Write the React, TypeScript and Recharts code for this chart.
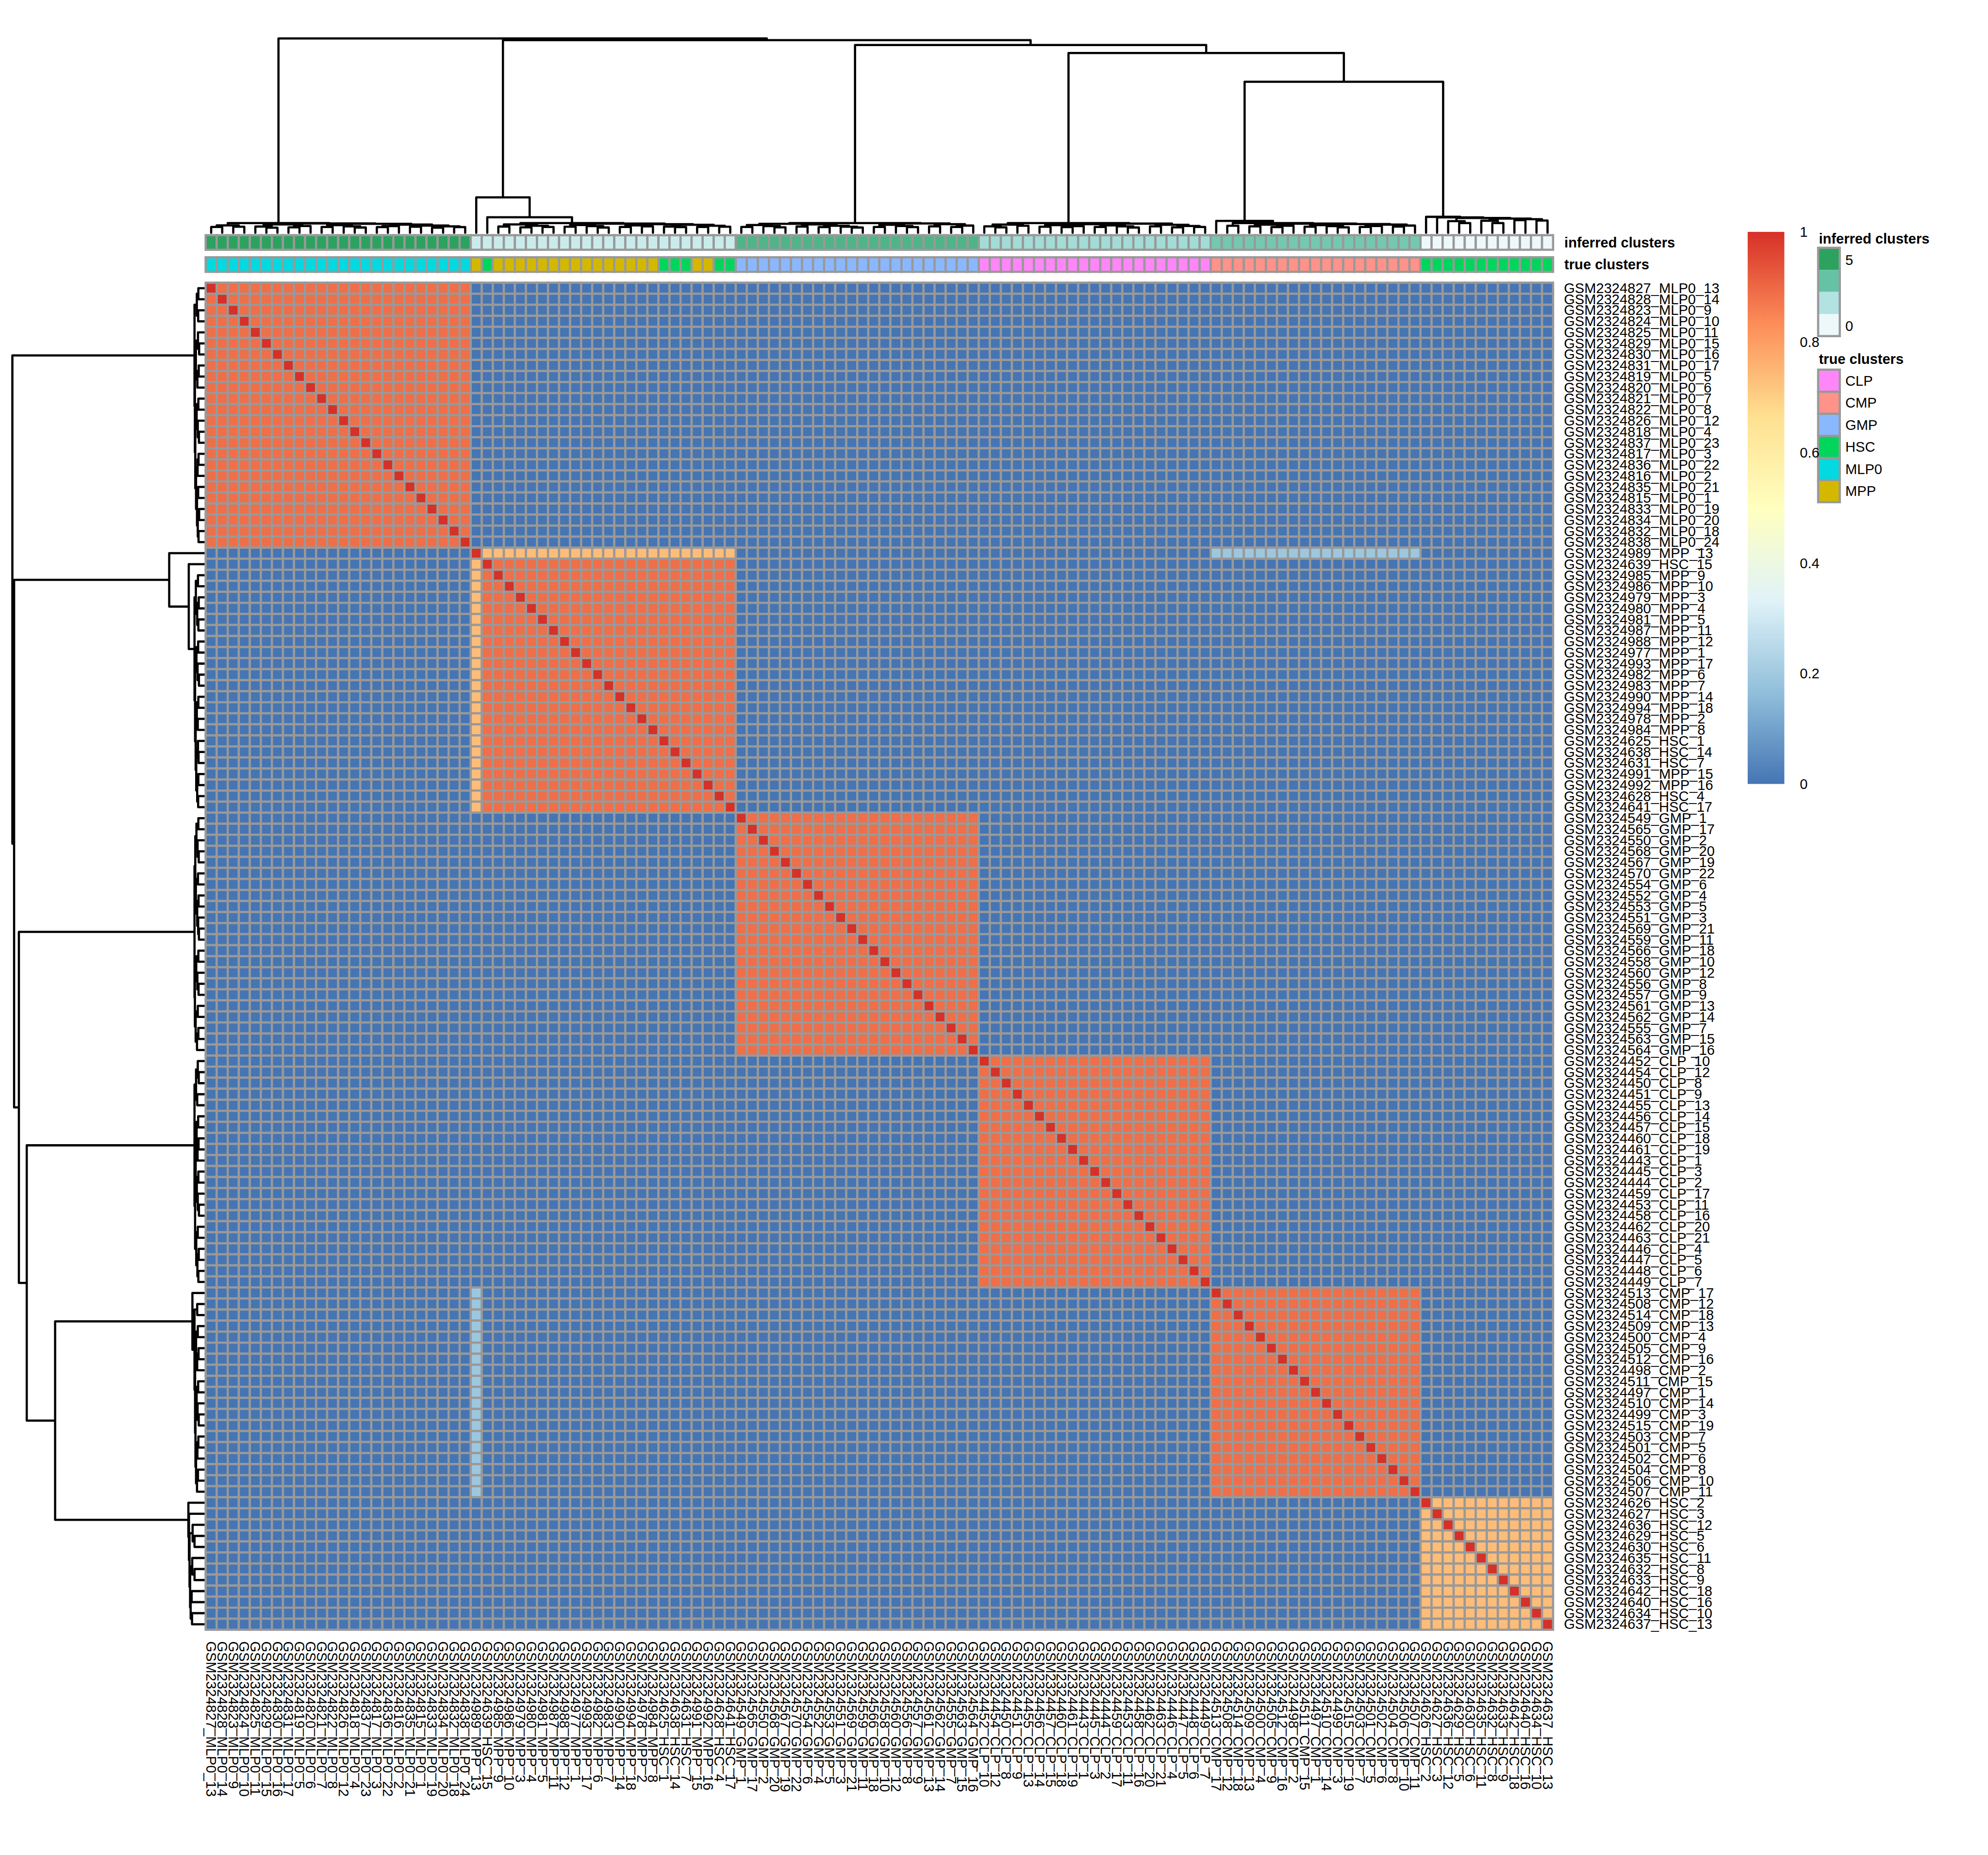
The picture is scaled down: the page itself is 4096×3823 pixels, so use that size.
import React from 'react';
import { ComposedChart, XAxis, YAxis, Scatter, Line } from 'recharts';

// ---- data ----
const samples: string[] = [
  'GSM2324827_MLP0_13', 'GSM2324828_MLP0_14', 'GSM2324823_MLP0_9', 'GSM2324824_MLP0_10', 'GSM2324825_MLP0_11',
  'GSM2324829_MLP0_15', 'GSM2324830_MLP0_16', 'GSM2324831_MLP0_17', 'GSM2324819_MLP0_5', 'GSM2324820_MLP0_6',
  'GSM2324821_MLP0_7', 'GSM2324822_MLP0_8', 'GSM2324826_MLP0_12', 'GSM2324818_MLP0_4', 'GSM2324837_MLP0_23',
  'GSM2324817_MLP0_3', 'GSM2324836_MLP0_22', 'GSM2324816_MLP0_2', 'GSM2324835_MLP0_21', 'GSM2324815_MLP0_1',
  'GSM2324833_MLP0_19', 'GSM2324834_MLP0_20', 'GSM2324832_MLP0_18', 'GSM2324838_MLP0_24',
  'GSM2324989_MPP_13', 'GSM2324639_HSC_15', 'GSM2324985_MPP_9', 'GSM2324986_MPP_10', 'GSM2324979_MPP_3',
  'GSM2324980_MPP_4', 'GSM2324981_MPP_5', 'GSM2324987_MPP_11', 'GSM2324988_MPP_12', 'GSM2324977_MPP_1',
  'GSM2324993_MPP_17', 'GSM2324982_MPP_6', 'GSM2324983_MPP_7', 'GSM2324990_MPP_14', 'GSM2324994_MPP_18',
  'GSM2324978_MPP_2', 'GSM2324984_MPP_8', 'GSM2324625_HSC_1', 'GSM2324638_HSC_14', 'GSM2324631_HSC_7',
  'GSM2324991_MPP_15', 'GSM2324992_MPP_16', 'GSM2324628_HSC_4', 'GSM2324641_HSC_17',
  'GSM2324549_GMP_1', 'GSM2324565_GMP_17', 'GSM2324550_GMP_2', 'GSM2324568_GMP_20', 'GSM2324567_GMP_19',
  'GSM2324570_GMP_22', 'GSM2324554_GMP_6', 'GSM2324552_GMP_4', 'GSM2324553_GMP_5', 'GSM2324551_GMP_3',
  'GSM2324569_GMP_21', 'GSM2324559_GMP_11', 'GSM2324566_GMP_18', 'GSM2324558_GMP_10', 'GSM2324560_GMP_12',
  'GSM2324556_GMP_8', 'GSM2324557_GMP_9', 'GSM2324561_GMP_13', 'GSM2324562_GMP_14', 'GSM2324555_GMP_7',
  'GSM2324563_GMP_15', 'GSM2324564_GMP_16',
  'GSM2324452_CLP_10', 'GSM2324454_CLP_12', 'GSM2324450_CLP_8', 'GSM2324451_CLP_9', 'GSM2324455_CLP_13',
  'GSM2324456_CLP_14', 'GSM2324457_CLP_15', 'GSM2324460_CLP_18', 'GSM2324461_CLP_19', 'GSM2324443_CLP_1',
  'GSM2324445_CLP_3', 'GSM2324444_CLP_2', 'GSM2324459_CLP_17', 'GSM2324453_CLP_11', 'GSM2324458_CLP_16',
  'GSM2324462_CLP_20', 'GSM2324463_CLP_21', 'GSM2324446_CLP_4', 'GSM2324447_CLP_5', 'GSM2324448_CLP_6',
  'GSM2324449_CLP_7',
  'GSM2324513_CMP_17', 'GSM2324508_CMP_12', 'GSM2324514_CMP_18', 'GSM2324509_CMP_13', 'GSM2324500_CMP_4',
  'GSM2324505_CMP_9', 'GSM2324512_CMP_16', 'GSM2324498_CMP_2', 'GSM2324511_CMP_15', 'GSM2324497_CMP_1',
  'GSM2324510_CMP_14', 'GSM2324499_CMP_3', 'GSM2324515_CMP_19', 'GSM2324503_CMP_7', 'GSM2324501_CMP_5',
  'GSM2324502_CMP_6', 'GSM2324504_CMP_8', 'GSM2324506_CMP_10', 'GSM2324507_CMP_11',
  'GSM2324626_HSC_2', 'GSM2324627_HSC_3', 'GSM2324636_HSC_12', 'GSM2324629_HSC_5', 'GSM2324630_HSC_6',
  'GSM2324635_HSC_11', 'GSM2324632_HSC_8', 'GSM2324633_HSC_9', 'GSM2324642_HSC_18', 'GSM2324640_HSC_16',
  'GSM2324634_HSC_10', 'GSM2324637_HSC_13',
];

// consecutive blocks of samples (in display order) and their inferred cluster
const blockSizes = [24, 24, 22, 21, 19, 12];
const blockInferred = [5, 1, 4, 2, 3, 0];
const blockConsensus = [0.88, 0.88, 0.88, 0.88, 0.88, 0.73];

// one sample is split between the MPP block and the CMP block
const splitSample = 'GSM2324989_MPP_13';
const splitOwnValue = 0.73;
const splitOtherBlock = 4;
const splitOtherValue = 0.19;

const trueLevels = ['CLP', 'CMP', 'GMP', 'HSC', 'MLP0', 'MPP'];
const trueColors = ['#FF86F8', '#FF9289', '#8AB8FF', '#00D65C', '#00DAE0', '#D4B800'];
const inferredPalette = ['#EDF8FB', '#B2E2E2', '#66C2A4', '#2CA25F'];
const inferredMax = 5;
const heatPalette = ['#4575B4', '#91BFDB', '#E0F3F8', '#FFFFBF', '#FEE090', '#FC8D59', '#D73027'];
const colorbarTicks = [0, 0.2, 0.4, 0.6, 0.8, 1];

// dendrogram: leaf = display index, node = [height (% of root), left, right]
type Node = number | [number, Node, Node];
const mlp0Tree: Node = [5.0,
  [3.8, [3.0, 0, 1], [3.1, 2, 3]],
  [4.8,
    [4.3, [3.2, 4, [2.6, 5, 6]], [3.5, [2.8, 7, 8], 9]],
    [4.6,
      [3.9, [3.0, 10, 11], [3.3, 12, [2.7, 13, 14]]],
      [4.2, [3.4, [2.9, 15, 16], 17], [3.7, [3.1, 18, 19], [3.3, [2.6, 20, 21], [2.9, 22, 23]]]]]]];
const mppTree: Node = [18.2, 24, [8.0, 25, [5.0,
  [4.3, [3.2, 26, 27], [3.6, [2.8, 28, 29], [3.0, 30, 31]]],
  [4.7,
    [4.0, [3.1, 32, 33], [3.4, 34, [2.7, 35, 36]]],
    [4.4, [3.8, [3.0, 37, 38], [3.3, 39, 40]], [4.1, [3.2, 41, [2.9, 42, 43]], [3.6, [3.0, 44, 45], [3.1, 46, 47]]]]]]]];
const gmpTree: Node = [5.0,
  [4.6, [4.0, [3.0, 48, 49], [3.4, 50, [2.8, 51, 52]]], [4.3, [3.2, 53, 54], [3.6, [2.9, 55, 56], [3.1, 57, [2.7, 58, 59]]]]],
  [4.8, [4.1, [3.0, 60, 61], [3.5, 62, [2.9, 63, 64]]], [4.4, [3.3, 65, 66], [3.7, [3.0, 67, 68], 69]]]];
const clpTree: Node = [5.0,
  [4.2, [3.3, 70, [2.8, 71, 72]], [3.6, 73, 74]],
  [4.7,
    [4.4, [3.9, [3.1, 75, 76], [3.4, [2.9, 77, 78], 79]], [3.8, [3.0, 80, 81], [3.3, 82, [2.7, 83, 84]]]],
    [4.1, [3.3, 85, 86], [3.5, [2.8, 87, 88], [3.0, 89, 90]]]]];
const cmpTree: Node = [6.1, 91, [5.0, [3.6, 92, 93],
  [4.7,
    [4.2, [3.3, 94, 95], [3.6, [2.9, 96, 97], 98]],
    [4.5, [3.9, [3.1, 99, 100], [3.4, 101, [2.8, 102, 103]]], [4.2, [3.5, [3.0, 104, 105], 106], [3.7, [3.2, 107, 108], 109]]]]]];
const hscTree: Node = [8.2, 110, [7.9, 111, [7.6, [6.0, 112, [5.0, 113, 114]],
  [7.3, [6.2, 115, [5.0, 116, 117]], [7.0, [6.5, 118, 119], [6.3, 120, 121]]]]]];
const sampleTree: Node = [100, mlp0Tree, [99.1, mppTree, [96.6, gmpTree, [92.5, clpTree, [77.7, cmpTree, hscTree]]]]];

// ---- layout (reference pixels, drawn at K) ----
const W = 4096;
const H = 3823;
const K = W / 4500;
const HEAT_X0 = 465.5;
const HEAT_Y0 = 640;
const CELL = 25;
const X_DOMAIN: [number, number] = [-HEAT_X0 / CELL, (4500 - HEAT_X0) / CELL];
const Y_DOMAIN: [number, number] = [-HEAT_Y0 / CELL, (4200 - HEAT_Y0) / CELL];
const ux = (px: number) => (px - HEAT_X0) / CELL;
const uy = (py: number) => (py - HEAT_Y0) / CELL;
const FONT = 32 * K;
const FAMILY = 'Liberation Sans, Arial, Helvetica, sans-serif';
const GRID = '#999999';
const STROKE = 5 * K;

const hexToRgb = (h: string) => [1, 3, 5].map((i) => parseInt(h.slice(i, i + 2), 16));
const ramp = (pal: string[], t: number) => {
  const p = Math.max(0, Math.min(1, t)) * (pal.length - 1);
  const i = Math.min(pal.length - 2, Math.floor(p));
  const f = p - i;
  const a = hexToRgb(pal[i]);
  const b = hexToRgb(pal[i + 1]);
  return `rgb(${a.map((v, k) => Math.round(v + (b[k] - v) * f)).join(',')})`;
};
const heatColor = (v: number) => ramp(heatPalette, Math.min(99, Math.floor(v * 100)) / 99);

// block index of every sample
const blockOf: number[] = [];
blockSizes.forEach((n, b) => { for (let i = 0; i < n; i++) blockOf.push(b); });
const splitIndex = samples.indexOf(splitSample);

const consensus = (i: number, j: number) => {
  if (i === j) return 1;
  const bi = blockOf[i];
  const bj = blockOf[j];
  if (i === splitIndex || j === splitIndex) {
    const other = i === splitIndex ? bj : bi;
    if (other === blockOf[splitIndex]) return splitOwnValue;
    if (other === splitOtherBlock) return splitOtherValue;
    return 0;
  }
  return bi === bj ? blockConsensus[bi] : 0;
};

const heatCells: { x: number; y: number; fill: string }[] = [];
samples.forEach((_, i) => samples.forEach((__, j) => {
  heatCells.push({ x: j + 0.5, y: i + 0.5, fill: heatColor(consensus(i, j)) });
}));

const annoCells: { x: number; y: number; fill: string }[] = [];
samples.forEach((s, j) => {
  annoCells.push({ x: j + 0.5, y: uy(549), fill: ramp(inferredPalette, blockInferred[blockOf[j]] / inferredMax) });
  annoCells.push({ x: j + 0.5, y: uy(599), fill: trueColors[trueLevels.indexOf(s.split('_')[1])] });
});

// dendrogram segments
interface Link { pl: number; hl: number; pr: number; hr: number; h: number }
const links: Link[] = [];
const walk = (n: Node): { pos: number; h: number } => {
  if (typeof n === 'number') return { pos: n + 0.5, h: 0 };
  const l = walk(n[1]);
  const r = walk(n[2]);
  links.push({ pl: l.pos, hl: l.h, pr: r.pos, hr: r.h, h: n[0] });
  return { pos: (l.pos + r.pos) / 2, h: n[0] };
};
walk(sampleTree);

const topY = (h: number) => uy(527 - h * 4.4);
const leftX = (h: number) => ux(462 - h * 4.34);
const topDendro: { x: number; y: number | null }[] = [];
const leftDendro: { x: number; y: number | null }[] = [];
links.forEach((k) => {
  topDendro.push({ x: k.pl, y: topY(k.hl) }, { x: k.pl, y: topY(k.h) }, { x: k.pr, y: topY(k.h) }, { x: k.pr, y: topY(k.hr) }, { x: k.pr, y: null });
  leftDendro.push({ x: leftX(k.hl), y: k.pl }, { x: leftX(k.h), y: k.pl }, { x: leftX(k.h), y: k.pr }, { x: leftX(k.hr), y: k.pr }, { x: leftX(k.hr), y: null });
});

// texts
interface TextItem { x: number; y: number; text: string; bold?: boolean; rotate?: boolean }
const texts: TextItem[] = [];
samples.forEach((s, i) => {
  texts.push({ x: ux(3540), y: i + 0.5, text: s });
  texts.push({ x: i + 0.5, y: uy(3716), text: s, rotate: true });
});
texts.push({ x: ux(3541), y: uy(549), text: 'inferred clusters', bold: true });
texts.push({ x: ux(3541), y: uy(599), text: 'true clusters', bold: true });
texts.push({ x: ux(4117), y: uy(540), text: 'inferred clusters', bold: true });
texts.push({ x: ux(4117), y: uy(813), text: 'true clusters', bold: true });
texts.push({ x: ux(4177), y: uy(589), text: String(inferredMax) });
texts.push({ x: ux(4177), y: uy(738), text: '0' });
trueLevels.forEach((t, k) => texts.push({ x: ux(4177), y: uy(862 + 50 * k), text: t }));
colorbarTicks.forEach((v) => texts.push({ x: ux(4074), y: uy(1775 - v * 1250), text: String(v) }));

// legend boxes
interface BoxItem { x: number; y: number; w: number; h: number; fill: string; stroke?: string; gradient?: boolean }
const boxes: BoxItem[] = [];
[...inferredPalette].reverse().forEach((c, k) => boxes.push({ x: ux(4140), y: uy(586 + 50 * k), w: 49, h: 50, fill: c }));
boxes.push({ x: ux(4140), y: uy(661), w: 49, h: 200, fill: 'none', stroke: GRID });
trueColors.forEach((c, k) => boxes.push({ x: ux(4140), y: uy(862 + 50 * k), w: 49, h: 50, fill: c, stroke: GRID }));
boxes.push({ x: ux(3997.5), y: uy(1150), w: 83, h: 1250, fill: 'url(#cbar)', gradient: true });

const CellShape = (p: any) => {
  const s = CELL * K;
  return <rect x={p.cx - s / 2} y={p.cy - s / 2} width={s} height={s} fill={p.payload.fill} stroke={GRID} strokeWidth={STROKE} />;
};
const AnnoShape = (p: any) => {
  const w = CELL * K;
  const h = 33 * K;
  return <rect x={p.cx - w / 2} y={p.cy - h / 2} width={w} height={h} fill={p.payload.fill} stroke={GRID} strokeWidth={STROKE} />;
};
const BoxShape = (p: any) => {
  const d: BoxItem = p.payload;
  const w = d.w * K;
  const h = d.h * K;
  return (
    <g>
      {d.gradient && (
        <defs>
          <linearGradient id="cbar" x1="0" y1="1" x2="0" y2="0">
            {heatPalette.map((c, i) => <stop key={c} offset={i / (heatPalette.length - 1)} stopColor={c} />)}
          </linearGradient>
        </defs>
      )}
      <rect x={p.cx - w / 2} y={p.cy - h / 2} width={w} height={h} fill={d.fill}
        stroke={d.stroke || 'none'} strokeWidth={STROKE} />
    </g>
  );
};
const TextShape = (p: any) => {
  const d: TextItem = p.payload;
  return (
    <text x={p.cx} y={p.cy} fontSize={FONT} fontFamily={FAMILY} fontWeight={d.bold ? 'bold' : 'normal'}
      textAnchor="start" dominantBaseline="central" fill="#000"
      transform={d.rotate ? `rotate(90 ${p.cx} ${p.cy})` : undefined}>
      {d.text}
    </text>
  );
};

export default function App() {
  return (
    <div style={{ position: 'absolute', left: 0, top: 0, background: '#fff' }}>
      <ComposedChart width={W} height={H} margin={{ top: 0, right: 0, bottom: 0, left: 0 }}>
        <XAxis type="number" dataKey="x" domain={X_DOMAIN} allowDataOverflow hide />
        <YAxis type="number" dataKey="y" domain={Y_DOMAIN} allowDataOverflow hide reversed />
        <Scatter data={heatCells} shape={CellShape} isAnimationActive={false} />
        <Scatter data={annoCells} shape={AnnoShape} isAnimationActive={false} />
        <Scatter data={boxes} shape={BoxShape} isAnimationActive={false} />
        <Line data={topDendro} dataKey="y" type="linear" stroke="#000" strokeWidth={STROKE}
          strokeLinecap="round" strokeLinejoin="round" dot={false} activeDot={false}
          connectNulls={false} isAnimationActive={false} />
        <Line data={leftDendro} dataKey="y" type="linear" stroke="#000" strokeWidth={STROKE}
          strokeLinecap="round" strokeLinejoin="round" dot={false} activeDot={false}
          connectNulls={false} isAnimationActive={false} />
        <Scatter data={texts} shape={TextShape} isAnimationActive={false} />
      </ComposedChart>
    </div>
  );
}
